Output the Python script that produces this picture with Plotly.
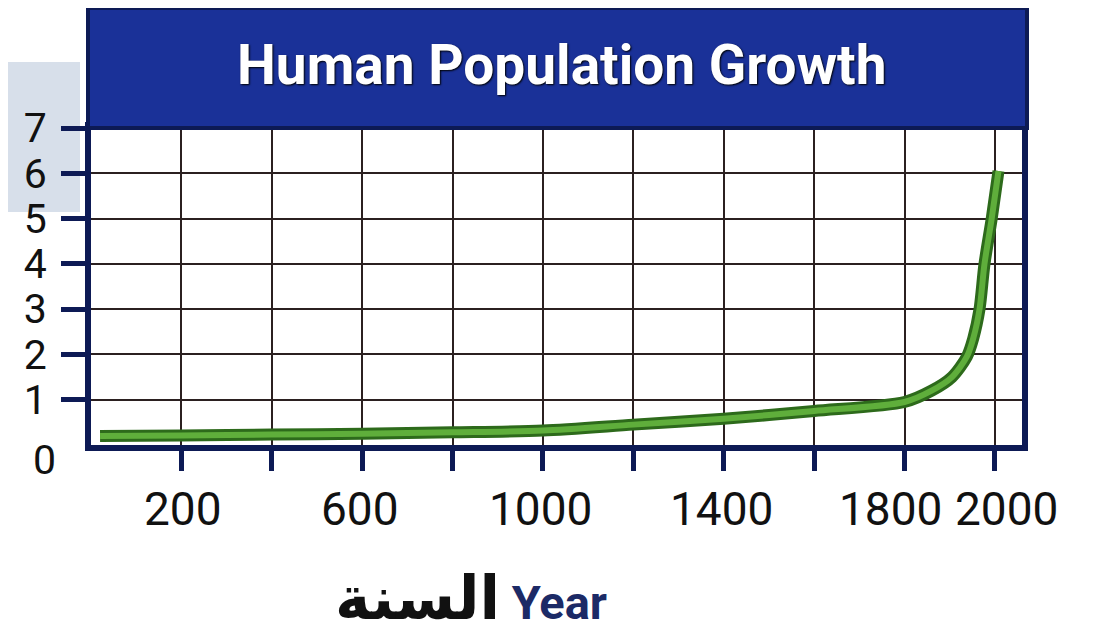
import plotly.graph_objects as go

# ---- data ----
years = [20, 200, 400, 600, 800, 1000, 1200, 1400, 1600, 1800, 1860, 1905, 1938, 1952, 1966, 1977, 1993, 2008]
population = [0.2, 0.21, 0.23, 0.25, 0.28, 0.32, 0.45, 0.58, 0.75, 0.95, 1.2, 1.5, 1.95, 2.35, 3.0, 4.0, 5.0, 6.05]

x_ticks = [200, 400, 600, 800, 1000, 1200, 1400, 1600, 1800, 2000]
x_labels = [200, 600, 1000, 1400, 1800, 2000]
y_ticks = [1, 2, 3, 4, 5, 6, 7]

title_text = "Human Population Growth"
xtitle_ar = "السنة"
xtitle_en = "Year"

NAVY = "#0d1a55"
BAND = "#1a3198"
NUM_FONT = "Roboto, sans-serif"

W, H = 1102, 635
OFF = 8  # page body margin
ML, MR, MT, MB = 91 - OFF, 80 + OFF, 128 - OFF, 190 + OFF
pw = W - ML - MR
ph = H - MT - MB


def px2x(sx):
    return (sx - OFF - ML) / pw


def px2y(sy):
    return ((H - MB) - (sy - OFF)) / ph


fig = go.Figure()
fig.add_trace(go.Scatter(x=years, y=population, mode="lines",
                         line=dict(color="#2d6a1b", width=12, shape="spline", smoothing=0.8),
                         hoverinfo="skip", showlegend=False))
fig.add_trace(go.Scatter(x=years, y=population, mode="lines",
                         line=dict(color="#5fae3b", width=6, shape="spline", smoothing=0.8),
                         showlegend=False))

shapes = [
    # light highlight box behind the upper y labels
    dict(type="rect", xref="paper", yref="paper", x0=px2x(0), x1=px2x(80),
         y0=px2y(212), y1=px2y(62),
         fillcolor="#d7dfea", line=dict(width=0), layer="below"),
    # title band
    dict(type="rect", xref="paper", yref="paper", x0=px2x(88), x1=px2x(1027),
         y0=1, y1=px2y(8), fillcolor=BAND, line=dict(color=NAVY, width=4), layer="above"),
]

annotations = [
    dict(text=f"<b>{title_text}</b>", xref="paper", yref="paper",
         x=px2x(561), y=px2y(65), xanchor="center", yanchor="middle",
         showarrow=False, font=dict(family="Roboto, sans-serif", size=55, color="white",
                                    weight=900, shadow="1px 1px 2px #000")),
    dict(text="0", xref="paper", yref="y", x=0, y=0, xanchor="right", yanchor="middle",
         xshift=-33, yshift=-15, showarrow=False,
         font=dict(family=NUM_FONT, size=41, color="#111")),
    dict(text=(f'<span style="font-family:DejaVu Sans;font-weight:bold;font-size:60px;color:#111">{xtitle_ar}</span>'
               f' <b><span style="color:#1c2a66">{xtitle_en}</span></b>'),
         xref="paper", yref="paper", x=px2x(471), y=px2y(598),
         xanchor="center", yanchor="middle", showarrow=False,
         font=dict(family="Roboto, sans-serif", size=47, color="#1c2a66")),
]
shift = {200: 2, 1800: -14, 2000: 12}
for v in x_labels:
    annotations.append(dict(text=str(v), x=v, xref="x", y=0, yref="y", yanchor="middle",
                            xanchor="center", yshift=-64, xshift=shift.get(v, -2), showarrow=False,
                            font=dict(family=NUM_FONT, size=46, color="#111")))

fig.update_layout(
    width=W, height=H,
    margin=dict(l=ML, r=MR, t=MT, b=MB, pad=0, autoexpand=False),
    paper_bgcolor="white", plot_bgcolor="white",
    showlegend=False,
    shapes=shapes, annotations=annotations,
    xaxis=dict(range=[0, 2060], tickvals=x_ticks, showticklabels=False, automargin=False,
               ticks="outside", ticklen=20, tickwidth=5, tickcolor=NAVY,
               showgrid=True, gridcolor="#2b2020", gridwidth=2,
               showline=True, linecolor=NAVY, linewidth=6, mirror=True, zeroline=False),
    yaxis=dict(range=[0, 7], tickvals=y_ticks, ticktext=[str(v) for v in y_ticks],
               automargin=False,
               ticks="outside", ticklen=24, tickwidth=5, tickcolor=NAVY,
               ticklabelstandoff=6,
               tickfont=dict(family=NUM_FONT, size=41, color="#111"),
               showgrid=True, gridcolor="#2b2020", gridwidth=2,
               showline=True, linecolor=NAVY, linewidth=6, mirror=True, zeroline=False),
)

fig.write_html("out.html")
